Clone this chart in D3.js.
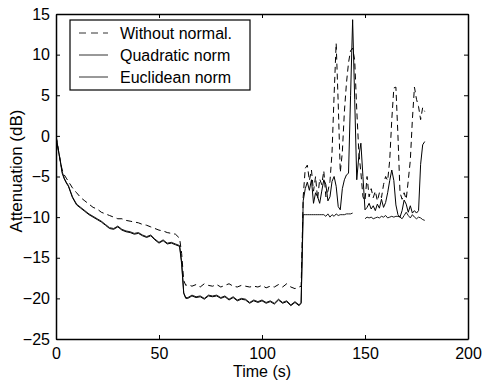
<!DOCTYPE html>
<html>
<head>
<meta charset="utf-8">
<script src="https://cdn.jsdelivr.net/npm/d3@7"></script>
<style>
  body { margin: 0; background: #fff; }
  text { font-family: "Liberation Sans", Arial, sans-serif; }
</style>
</head>
<body>
<svg id="chart"></svg>
<script>
// time samples (s)
const time = [0, 1, 2, 3, 4, 5, 6,
  8, 10, 12, 14, 16, 18, 20, 22, 24, 26, 28, 30, 32, 34, 36, 38, 40, 42, 44, 46, 48, 50, 52, 54, 56, 58,
  60, 61, 62, 63,
  64, 66, 68, 70, 72, 74, 76, 78, 80, 82, 84, 86, 88, 90, 92, 94, 96, 98, 100, 102, 104, 106, 108, 110, 112, 114, 116, 118, 119,
  120, 121, 122, 123, 124, 125, 126, 127, 128, 129, 130, 131, 132, 133, 134, 135, 136, 137, 138, 139,
  140, 141, 142, 143, 144, 145, 146, 147, 148, 149, 150, 151, 152, 153, 154, 155, 156, 157, 158, 159,
  160, 161, 162, 163, 164, 165, 166, 167, 168, 169, 170, 171, 172, 173, 174, 175, 176, 177, 178, 179];

// attenuation (dB)
const without_norm = [0, -1.5, -3.0, -4.2, -4.8, -5.2, -5.6,
  -6.4, -7.0, -7.6, -8.0, -8.4, -8.8, -9.0, -9.4, -9.6, -9.8, -10.0, -10.2, -10.2, -10.4, -10.5, -10.6, -10.7, -10.9, -11.0, -11.2, -11.4, -11.6, -11.7, -11.9, -12.0, -12.1,
  -12.6, -14.5, -17.8, -18.4,
  -18.3, -18.5, -18.3, -18.6, -18.2, -18.4, -18.5, -18.3, -18.6, -18.4, -18.2, -18.5, -18.6, -18.4, -18.5, -18.6, -18.5, -18.6, -18.4, -18.7, -18.5, -18.6, -18.3, -18.6, -18.2, -18.6, -18.8, -18.6, -18.5,
  -7.5, -4.0, -3.6, -5.5, -4.2, -6.8, -5.0, -7.8, -5.3, -6.0, -4.3, -7.5, -6.8, -5.6, -2.0, 5.0, 11.4, 4.0, -4.5, -2.0,
  3.0, 6.5, 9.0, 10.5, 10.8, 9.3, 3.2, -2.0, -4.5, -7.5, -8.0, -5.0, -7.5, -6.5, -7.6, -6.8, -8.0, -7.0, -7.6, -6.0,
  -5.0, -5.5, -3.0, 2.0, 5.9, 6.0, 0.0, -7.0, -7.8, -7.0, -7.8, -5.5, -3.0, 2.0, 6.0, 4.5, 3.6, 2.0, 3.5, 3.0];

const quadratic_norm = [0, -1.6, -3.0, -4.6, -5.3, -5.8, -6.2,
  -7.6, -8.5, -8.9, -9.3, -9.7, -10.0, -10.3, -10.6, -11.0, -11.4, -11.5, -11.2, -11.6, -11.8, -11.9, -12.1, -12.0, -12.3, -12.5, -12.3, -12.8, -13.2, -12.9, -13.3, -13.2, -13.4,
  -13.6, -15.8, -19.4, -20.0,
  -20.0, -19.7, -19.9, -19.8, -20.1, -19.7, -19.8, -19.7, -20.0, -19.8, -20.2, -19.9, -20.3, -20.1, -20.2, -20.6, -20.3, -20.5, -20.3, -20.6, -20.4, -20.7, -20.2, -20.6, -20.4, -20.9, -20.5, -20.9, -20.6,
  -8.0, -6.5, -5.7, -6.7, -5.4, -8.3, -7.0, -7.5, -8.3, -6.8, -5.4, -6.0, -8.0, -7.5, -5.6, -5.0, -6.2, -8.7, -9.1, -6.5,
  -5.4, -4.8, -4.6, 5.0, 14.3, 4.5, -5.4, -2.5, -0.9, -5.0, -9.1, -8.8, -8.3, -9.0, -8.6, -9.2, -8.4, -8.9, -7.8, -8.8,
  -8.2, -7.0, -5.5, -4.2, -5.5, -8.5, -9.7, -10.0, -9.2, -7.9, -8.4, -9.4, -8.6, -9.5, -9.2, -9.5, -9.2, -3.5, -1.1, -0.7];

const euclidean_norm = [0, -1.5, -2.9, -4.4, -5.2, -5.7, -6.1,
  -7.5, -8.4, -8.8, -9.2, -9.6, -9.9, -10.2, -10.5, -10.9, -11.3, -11.4, -11.1, -11.5, -11.7, -11.8, -12.0, -11.9, -12.2, -12.4, -12.2, -12.7, -13.1, -12.8, -13.2, -13.1, -13.3,
  -13.5, -15.5, -19.3, -19.9,
  -19.9, -19.6, -19.8, -19.7, -20.0, -19.6, -19.7, -19.6, -19.9, -19.7, -20.1, -19.8, -20.2, -20.0, -20.1, -20.5, -20.2, -20.4, -20.2, -20.5, -20.3, -20.6, -20.1, -20.5, -20.3, -20.8, -20.4, -20.8, -20.5,
  -9.7, -9.7, -9.7, -9.7, -9.7, -9.7, -9.7, -9.7, -9.7, -9.7, -9.7, -9.9, -9.6, -10.0, -9.7, -9.9, -9.6, -9.8, -9.7, -9.7,
  -9.7, -9.6, -9.6, -9.6, -9.5, null, null, null, null, null, -10.2, -10.0, -10.1, -10.0, -10.2, -10.1, -10.0, -10.1, -9.9, -10.0,
  -9.8, -10.1, -10.0, -9.9, -10.0, -9.9, -9.9, -10.0, -10.2, -9.8, -9.4, -9.8, -10.1, -9.7, -10.0, -10.2, -10.0, -10.1, -10.3, -10.4];

const series_names = ["Without normal.", "Quadratic norm", "Euclidean norm"];
const x_ticks = [0, 50, 100, 150, 200];
const y_ticks = [-25, -20, -15, -10, -5, 0, 5, 10, 15];

function draw_chart() {
    let width = 482;
    let height = 382;
    let margin = {top: 14, right: 14, bottom: 43, left: 56};
    let font_size = 16;

    const svg = d3.select("#chart")
        .attr("width", width)
        .attr("height", height);

    let x = d3.scaleLinear().domain([0, 200]).range([margin.left, width - margin.right]);
    let y = d3.scaleLinear().domain([-25, 15]).range([height - margin.bottom, margin.top]);

    const series = [
        {name: series_names[0], values: without_norm, dash: "6,4", width: 1},
        {name: series_names[1], values: quadratic_norm, dash: null, width: 1},
        {name: series_names[2], values: euclidean_norm, dash: null, width: 0.9}
    ];

    const line = d3.line()
        .defined(d => d[1] !== null)
        .x(d => x(d[0]))
        .y(d => y(d[1]));

    svg.append("defs").append("clipPath").attr("id", "plot-clip")
        .append("rect")
        .attr("x", margin.left).attr("y", margin.top)
        .attr("width", width - margin.left - margin.right)
        .attr("height", height - margin.top - margin.bottom);

    const lines_g = svg.append("g").attr("clip-path", "url(#plot-clip)");

    lines_g.selectAll("path")
        .data(series)
        .join("path")
        .attr("fill", "none")
        .attr("stroke", "#000")
        .attr("stroke-width", d => d.width)
        .attr("stroke-dasharray", d => d.dash)
        .attr("stroke-linejoin", "round")
        .attr("d", d => line(time.map((t, i) => [t, d.values[i]])));

    // axes, ticks pointing inward on all four sides
    const x_axis = svg.append("g")
        .attr("transform", `translate(0,${height - margin.bottom})`)
        .call(d3.axisBottom(x).tickValues(x_ticks).tickSizeInner(-4).tickSizeOuter(0).tickPadding(9));
    const x_top = svg.append("g")
        .attr("transform", `translate(0,${margin.top})`)
        .call(d3.axisTop(x).tickValues(x_ticks).tickSizeInner(-4).tickSizeOuter(0).tickFormat(""));
    const y_axis = svg.append("g")
        .attr("transform", `translate(${margin.left},0)`)
        .call(d3.axisLeft(y).tickValues(y_ticks).tickSizeInner(-4).tickSizeOuter(0).tickPadding(6));
    const y_right = svg.append("g")
        .attr("transform", `translate(${width - margin.right},0)`)
        .call(d3.axisRight(y).tickValues(y_ticks).tickSizeInner(-4).tickSizeOuter(0).tickFormat(""));

    [x_axis, x_top, y_axis, y_right].forEach(a => {
        a.select(".domain").attr("stroke", "#000").attr("stroke-width", 1.5);
        a.selectAll(".tick line").attr("stroke", "#000");
        a.selectAll(".tick text").attr("font-size", font_size).attr("fill", "#000")
            .attr("font-family", "'Liberation Sans', Arial, sans-serif");
    });

    svg.append("text")
        .attr("x", 262)
        .attr("y", 377)
        .attr("text-anchor", "middle")
        .attr("font-size", font_size)
        .text("Time (s)");

    svg.append("text")
        .attr("transform", `translate(22,171) rotate(-90)`)
        .attr("text-anchor", "middle")
        .attr("font-size", 17)
        .text("Attenuation (dB)");

    // legend
    const legend = svg.append("g").attr("transform", "translate(70,20)");
    legend.append("rect")
        .attr("width", 180).attr("height", 70)
        .attr("fill", "#fff").attr("stroke", "#000").attr("stroke-width", 1.2);
    const entry = legend.selectAll(".entry")
        .data(series)
        .join("g")
        .attr("transform", (d, i) => `translate(0,${13 + i * 22})`);
    entry.append("line")
        .attr("x1", 9).attr("x2", 38)
        .attr("stroke", "#333")
        .attr("stroke-width", 1)
        .attr("stroke-dasharray", d => d.dash ? "7,5" : null);
    entry.append("text")
        .attr("x", 50).attr("y", 6)
        .attr("font-size", font_size)
        .text(d => d.name);
}

draw_chart();
</script>
</body>
</html>
